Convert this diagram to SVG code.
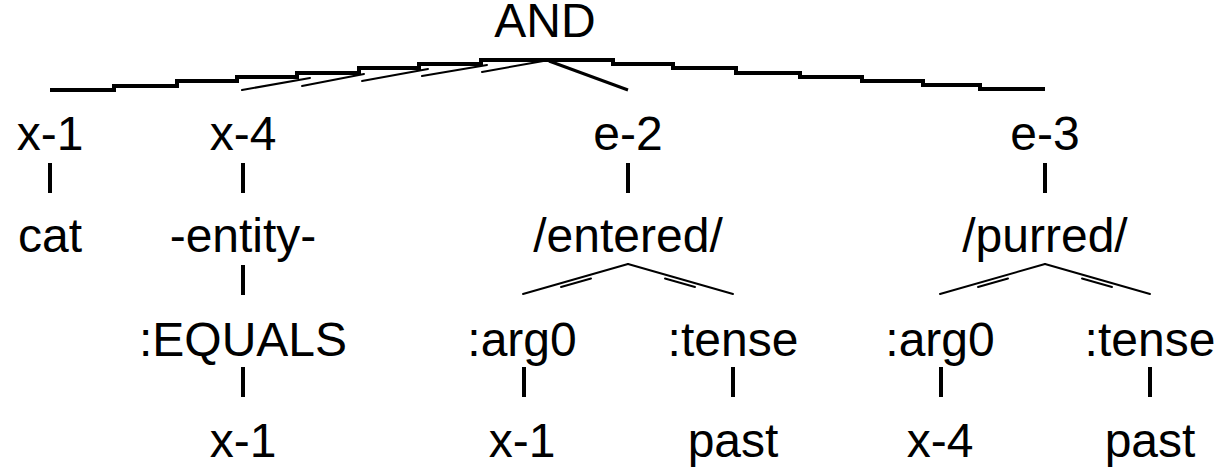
<svg xmlns="http://www.w3.org/2000/svg" width="1223" height="472" viewBox="0 0 1223 472">
  <style>
    text { font-family: "Liberation Sans", Arial, Helvetica, sans-serif; font-size: 48px; fill: #000; text-anchor: middle; }
    .tick { stroke: #000; stroke-width: 4; fill: none; }
    .stair { stroke: #000; stroke-width: 4; fill: none; stroke-linejoin: miter; }
    .thin { stroke: #000; stroke-width: 2; fill: none; stroke-linecap: round; }
    .edge { stroke: #000; stroke-width: 3; fill: none; }
  </style>
  <rect width="1223" height="472" fill="#fff"/>

  <g id="connectors">
    <!-- top-level fan from AND -->
    <path class="stair" d="M50 90 H114 V86 H177 V81 H237 V77 H297 V73 H359 V68 H419 V64 H481 V60 H613 V64 H673 V68 H736 V73 H800 V77 H862 V81 H923 V85 H980 V89 H1045"/>
    <line class="thin" x1="242" y1="90" x2="310" y2="78"/>
    <line class="thin" x1="302" y1="86" x2="364" y2="74"/>
    <line class="thin" x1="362" y1="81" x2="428" y2="69"/>
    <line class="thin" x1="422" y1="76" x2="487" y2="65"/>
    <line class="thin" x1="482" y1="72" x2="549" y2="60"/>
    <line class="edge" x1="549" y1="61" x2="628" y2="90"/>

    <!-- x-1 -->
    <line class="tick" x1="50" y1="163" x2="50" y2="193"/>
    <!-- x-4 -->
    <line class="tick" x1="243" y1="163" x2="243" y2="193"/>
    <line class="tick" x1="243" y1="265" x2="243" y2="295"/>
    <line class="tick" x1="243" y1="367" x2="243" y2="397"/>
    <!-- e-2 -->
    <line class="tick" x1="628" y1="163" x2="628" y2="193"/>
    <line class="thin" x1="523" y1="294" x2="628" y2="264"/>
    <line class="thin" x1="628" y1="264" x2="733" y2="294"/>
    <line class="thin" x1="561" y1="287" x2="591" y2="278.5"/>
    <line class="thin" x1="665" y1="278.5" x2="695" y2="287"/>
    <line class="tick" x1="524" y1="367" x2="524" y2="397"/>
    <line class="tick" x1="733" y1="367" x2="733" y2="397"/>
    <!-- e-3 -->
    <line class="tick" x1="1045" y1="163" x2="1045" y2="193"/>
    <line class="thin" x1="940" y1="294" x2="1045" y2="264"/>
    <line class="thin" x1="1045" y1="264" x2="1150" y2="294"/>
    <line class="thin" x1="978" y1="287" x2="1008" y2="278.5"/>
    <line class="thin" x1="1082" y1="278.5" x2="1112" y2="287"/>
    <line class="tick" x1="941" y1="367" x2="941" y2="397"/>
    <line class="tick" x1="1150" y1="367" x2="1150" y2="397"/>
  </g>

  <g id="n-and"><text x="545" y="37">AND</text></g>

  <g id="n-x1"><text x="50" y="150">x-1</text></g>
  <g id="n-cat"><text x="50" y="252">cat</text></g>

  <g id="n-x4"><text x="243" y="150">x-4</text></g>
  <g id="n-entity"><text x="243" y="252">-entity-</text></g>
  <g id="n-equals"><text x="243" y="356">:EQUALS</text></g>
  <g id="n-equals-x1"><text x="243" y="457">x-1</text></g>

  <g id="n-e2"><text x="628" y="150">e-2</text></g>
  <g id="n-entered"><text x="628" y="252">/entered/</text></g>
  <g id="n-e2-arg0"><text x="522" y="356">:arg0</text></g>
  <g id="n-e2-tense"><text x="733" y="356">:tense</text></g>
  <g id="n-e2-x1"><text x="522" y="457">x-1</text></g>
  <g id="n-e2-past"><text x="733" y="457">past</text></g>

  <g id="n-e3"><text x="1045" y="150">e-3</text></g>
  <g id="n-purred"><text x="1045" y="252">/purred/</text></g>
  <g id="n-e3-arg0"><text x="940" y="356">:arg0</text></g>
  <g id="n-e3-tense"><text x="1150" y="356">:tense</text></g>
  <g id="n-e3-x4"><text x="940" y="457">x-4</text></g>
  <g id="n-e3-past"><text x="1150" y="457">past</text></g>
</svg>
